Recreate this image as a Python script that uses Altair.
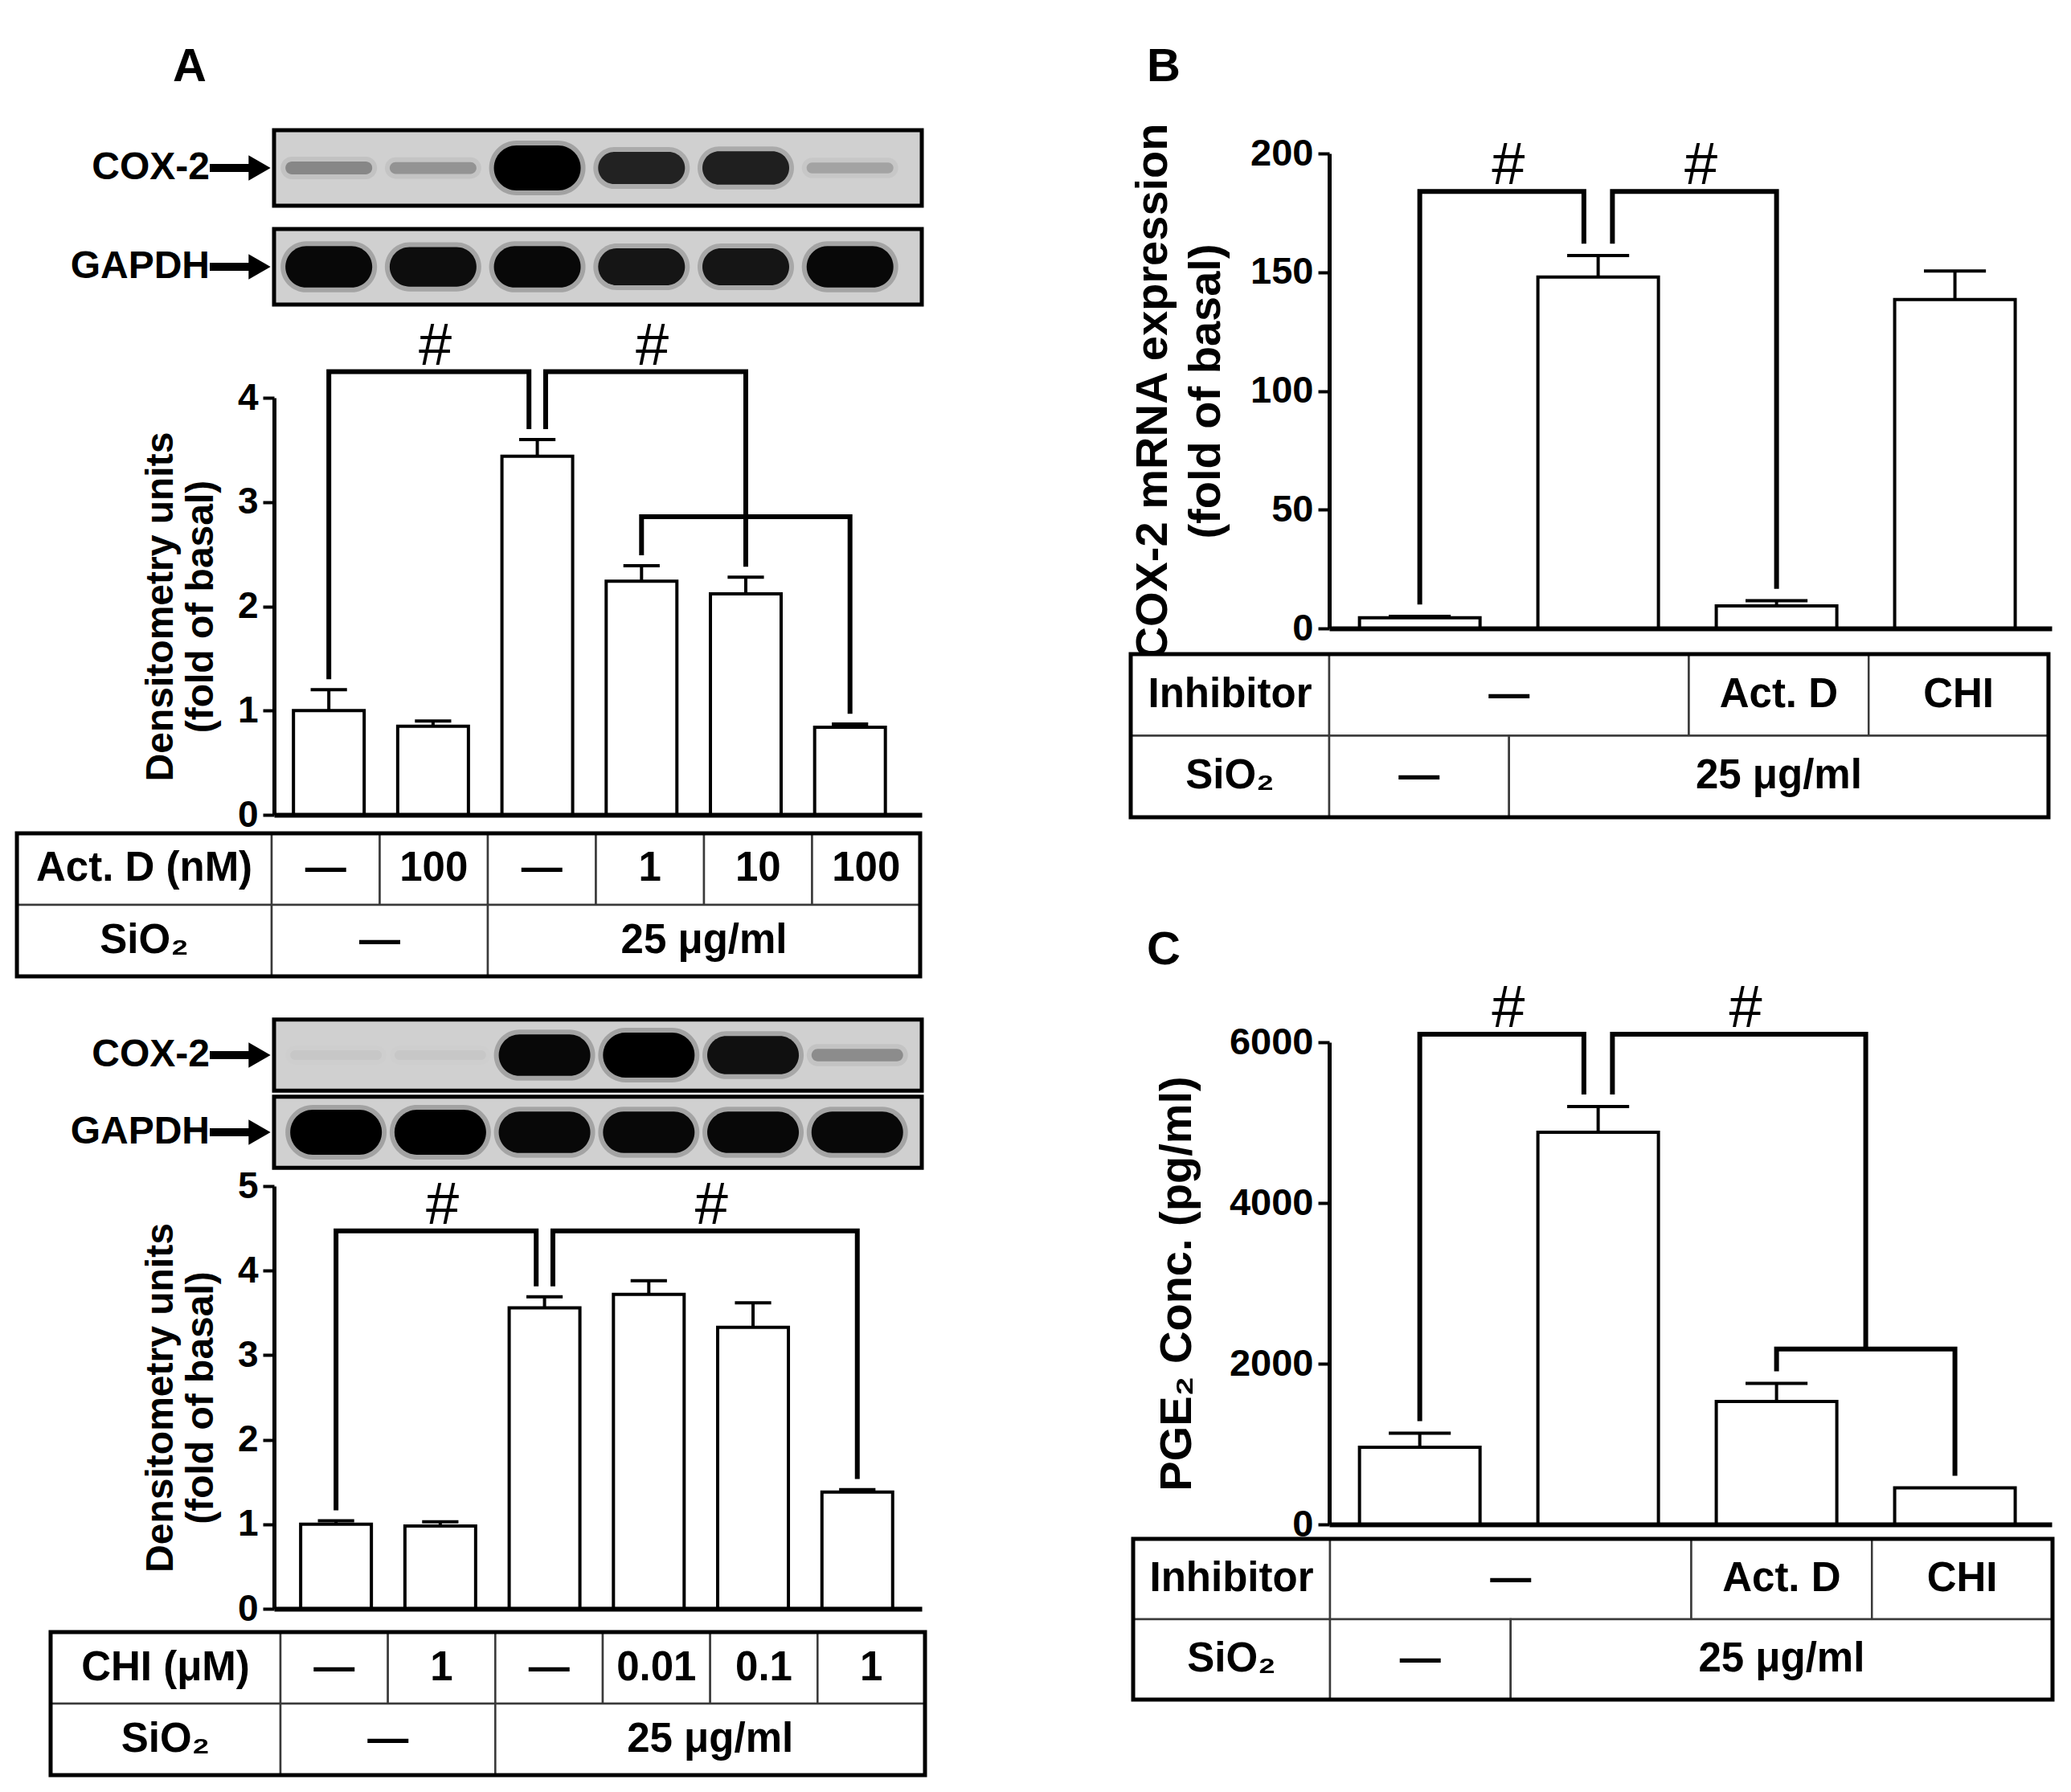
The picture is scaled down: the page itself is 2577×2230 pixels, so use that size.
import altair as alt
import pandas as pd

FONT = "Liberation Sans"

# ---------------- data ----------------
# Panel A, upper experiment (actinomycin D)
a1_mean = [1.00, 0.85, 3.44, 2.24, 2.12, 0.84]
a1_err = [0.20, 0.05, 0.16, 0.15, 0.16, 0.03]
a1_treat = ["—", "100", "—", "1", "10", "100"]
a1_treat_label = "Act. D (nM)"
a1_cox2_band = [0.30, 0.25, 1.00, 0.80, 0.82, 0.18]
a1_gapdh_band = [0.95, 0.92, 0.95, 0.88, 0.88, 0.95]
a1_brackets = [(1, 3, 4.25, "#"), (3, 5, 4.25, "#"), (4, 6, 2.86, "")]

# Panel A, lower experiment (cycloheximide)
a2_mean = [1.00, 0.98, 3.56, 3.72, 3.33, 1.38]
a2_err = [0.04, 0.05, 0.13, 0.16, 0.29, 0.03]
a2_treat = ["—", "1", "—", "0.01", "0.1", "1"]
a2_treat_label = "CHI (μM)"
a2_cox2_band = [0.03, 0.03, 0.95, 1.00, 0.90, 0.28]
a2_gapdh_band = [1.0, 1.0, 0.95, 0.95, 0.95, 0.95]
a2_brackets = [(1, 3, 4.47, "#"), (3, 6, 4.47, "#")]

sio2_label = "SiO₂"
a_sio2 = [(1, 2, "—"), (3, 6, "25 μg/ml")]

# Panel B
b_mean = [4.5, 148.0, 9.5, 138.5]
b_err = [0.6, 9.0, 2.2, 12.0]
b_brackets = [(1, 2, 184, "#"), (2, 3, 184, "#")]

# Panel C
c_mean = [960, 4880, 1530, 455]
c_err = [175, 320, 225, 0]
c_brackets = [(1, 2, 6100, "#"), (2, 3.5, 6100, "#"), (3, 4, 2183, "")]

bc_inhibitor = [(1, 2, "—"), (3, 3, "Act. D"), (4, 4, "CHI")]
bc_sio2 = [(1, 1, "—"), (2, 4, "25 μg/ml")]

TABLE_FS = 51
LETTER_FS = 58


# ---------------- helpers ----------------
def bracket_data(mean, err, brackets, gap, hub=0.08):
    tops = [m + e for m, e in zip(mean, err)]
    pts, labs = [], []
    for k, (l, r, h, lab) in enumerate(brackets):
        lo = hub if any(b[1] == l and b[2] == h for b in brackets) else 0.0
        ro = -hub if any(b[0] == r and b[2] == h for b in brackets) else 0.0

        def end_y(p):
            if float(p).is_integer():
                return tops[int(p) - 1] + gap
            return max(b[2] for b in brackets if b[0] <= p <= b[1] and b[2] < h)

        xl, xr = l + lo, r + ro
        for o, (xx, yy) in enumerate([(xl, end_y(l)), (xl, h), (xr, h), (xr, end_y(r))]):
            pts.append({"bid": k, "ord": o, "x": xx, "y": yy})
        if lab:
            labs.append({"x": (xl + xr) / 2, "y": h, "t": lab})
    return pd.DataFrame(pts), pd.DataFrame(labs)


def bar_panel(mean, err, brackets, ymax, yticks, title, width, height, xdom, barw,
              label_fs=46, title_fs=48, title_lh=50, title_pad=22):
    n = len(mean)
    df = pd.DataFrame({"pos": list(range(1, n + 1)), "mean": mean, "err": err})
    df["top"] = df["mean"] + df["err"]
    ppu = width / (xdom[1] - xdom[0])
    cap = barw * 0.26 / ppu
    xs = alt.Scale(domain=xdom, nice=False, zero=False)
    ys = alt.Scale(domain=[0, ymax], nice=False, zero=True)
    xaxis = alt.Axis(labels=False, ticks=False, grid=False, title=None,
                     domainWidth=6, zindex=1)
    yaxis = alt.Axis(values=yticks, title=title, format="d", titlePadding=title_pad,
                     titleLineHeight=title_lh, titleFontSize=title_fs,
                     labelFontSize=label_fs, grid=False, labelPadding=6)
    base = alt.Chart(df)
    bars = base.mark_bar(orient="vertical", size=barw, fill="white", stroke="black",
                         strokeWidth=4).encode(
        x=alt.X("pos:Q", scale=xs, axis=xaxis),
        y=alt.Y("mean:Q", scale=ys, axis=yaxis),
    )
    eb = base.transform_filter("datum.err > 0")
    stem = eb.mark_rule(strokeWidth=4, color="black").encode(
        x=alt.X("pos:Q", scale=xs, axis=xaxis),
        y=alt.Y("mean:Q", scale=ys, axis=yaxis), y2="top:Q")
    caps = eb.transform_calculate(
        c0=f"datum.pos - {cap}", c1=f"datum.pos + {cap}"
    ).mark_rule(strokeWidth=4, color="black").encode(
        x=alt.X("c0:Q", scale=xs, axis=xaxis), x2="c1:Q",
        y=alt.Y("top:Q", scale=ys, axis=yaxis))
    pts, labs = bracket_data(mean, err, brackets, 0.025 * ymax)
    br = alt.Chart(pts).mark_line(strokeWidth=6, color="black", strokeJoin="miter",
                                  strokeCap="butt").encode(
        x=alt.X("x:Q", scale=xs, axis=xaxis), y=alt.Y("y:Q", scale=ys, axis=yaxis),
        detail="bid:N", order="ord:Q")
    hs = alt.Chart(labs).mark_text(fontSize=74, font=FONT, baseline="alphabetic",
                                   dy=-9, dx=8, color="black").encode(
        x=alt.X("x:Q", scale=xs, axis=xaxis), y=alt.Y("y:Q", scale=ys, axis=yaxis),
        text="t:N")
    return alt.layer(bars, stem, caps, br, hs).properties(width=width, height=height)


def letter_layer(letter, pos):
    return alt.Chart(pd.DataFrame({"t": [letter]})).mark_text(
        fontSize=LETTER_FS, fontWeight="bold", font=FONT, baseline="middle", color="black"
    ).encode(x=alt.value(pos[0]), y=alt.value(pos[1]), text="t:N")


def blot_panel(cox, gapdh, width, height, xdom, ydom, row_half, band_w, ppu_y,
               letter=None, letter_pos=None):
    xs = alt.Scale(domain=xdom, nice=False, zero=False)
    ys = alt.Scale(domain=ydom, nice=False, zero=False, reverse=True)
    rows = pd.DataFrame({"row": [0, 1], "name": ["COX-2", "GAPDH"]})
    bands = pd.DataFrame([{"row": r, "lane": i + 1, "v": v}
                          for r, arr in enumerate([cox, gapdh]) for i, v in enumerate(arr)])
    frame = alt.Chart(rows).transform_calculate(
        r0=f"datum.row - {row_half}", r1=f"datum.row + {row_half}"
    ).mark_rect(fill="#d0d0d0", stroke="black", strokeWidth=5).encode(
        x=alt.value(0), x2=alt.value("width"),
        y=alt.Y("r0:Q", scale=ys, axis=None), y2="r1:Q")
    halo = alt.Chart(bands).transform_calculate(
        b0=f"datum.row - (12 + 22*datum.v*datum.v)/{ppu_y}",
        b1=f"datum.row + (12 + 22*datum.v*datum.v)/{ppu_y}",
        o="0.22*datum.v",
    ).mark_bar(orient="vertical", size=band_w + 12, cornerRadius=34, color="black").encode(
        x=alt.X("lane:Q", scale=xs, axis=None),
        y=alt.Y("b0:Q", scale=ys, axis=None), y2="b1:Q",
        opacity=alt.Opacity("o:Q", scale=alt.Scale(domain=[0, 1], range=[0, 1]), legend=None))
    core = alt.Chart(bands).transform_calculate(
        b0=f"datum.row - (6 + 22*datum.v*datum.v)/{ppu_y}",
        b1=f"datum.row + (6 + 22*datum.v*datum.v)/{ppu_y}",
    ).mark_bar(orient="vertical", size=band_w, cornerRadius=30, color="black").encode(
        x=alt.X("lane:Q", scale=xs, axis=None),
        y=alt.Y("b0:Q", scale=ys, axis=None), y2="b1:Q",
        opacity=alt.Opacity("v:Q", scale=alt.Scale(domain=[0, 1], range=[0, 1]), legend=None))
    lbl = alt.Chart(rows).mark_text(align="right", baseline="middle", fontSize=48,
                                    fontWeight="bold", font=FONT, color="black").encode(
        x=alt.value(-80), y=alt.Y("row:Q", scale=ys, axis=None), text="name:N")
    shaft = alt.Chart(rows).mark_rule(strokeWidth=10, color="black").encode(
        x=alt.value(-80), x2=alt.value(-24), y=alt.Y("row:Q", scale=ys, axis=None))
    head = alt.Chart(rows).mark_point(shape="triangle-right", filled=True, size=1000,
                                      color="black", opacity=1).encode(
        x=alt.value(-18), y=alt.Y("row:Q", scale=ys, axis=None))
    layers = [frame, halo, core, lbl, shaft, head]
    if letter:
        layers.append(letter_layer(letter, letter_pos))
    return alt.layer(*layers).properties(width=width, height=height)


def table_panel(width, height, xdom, ydom, label_left, row1_label, row1_cells,
                row2_label, row2_cells, letter=None, letter_pos=None):
    cells = [dict(row=0, x0=label_left, x1=0.5, text=row1_label),
             dict(row=1, x0=label_left, x1=0.5, text=row2_label)]
    for a, b, t in row1_cells:
        cells.append(dict(row=0, x0=a - 0.5, x1=b + 0.5, text=t))
    for a, b, t in row2_cells:
        cells.append(dict(row=1, x0=a - 0.5, x1=b + 0.5, text=t))
    df = pd.DataFrame(cells)
    xs = alt.Scale(domain=xdom, nice=False, zero=False)
    ys = alt.Scale(domain=ydom, nice=False, zero=False, reverse=True)
    base = alt.Chart(df).transform_calculate(
        y1="datum.row + 1", xm="(datum.x0 + datum.x1) / 2", ym="datum.row + 0.5")
    rect = base.mark_rect(fill="white", stroke="#3a3a3a", strokeWidth=2.5).encode(
        x=alt.X("x0:Q", scale=xs, axis=None), x2="x1:Q",
        y=alt.Y("row:Q", scale=ys, axis=None), y2="y1:Q")
    outer = base.transform_aggregate(
        xa="min(x0)", xb="max(x1)", ya="min(row)", yb="max(y1)"
    ).mark_rect(fillOpacity=0, stroke="black", strokeWidth=5).encode(
        x=alt.X("xa:Q", scale=xs, axis=None), x2="xb:Q",
        y=alt.Y("ya:Q", scale=ys, axis=None), y2="yb:Q")
    txt = base.mark_text(fontSize=TABLE_FS, fontWeight="bold", font=FONT,
                         baseline="middle", color="black").encode(
        x=alt.X("xm:Q", scale=xs, axis=None), y=alt.Y("ym:Q", scale=ys, axis=None),
        text="text:N")
    layers = [rect, outer, txt]
    if letter:
        layers.append(letter_layer(letter, letter_pos))
    return alt.layer(*layers).properties(width=width, height=height)


# ---------------- panel A ----------------
WL = 806
A1_X = [0.513, 6.65]
A2_X = [0.444, 6.58]
blotA1 = blot_panel(a1_cox2_band, a1_gapdh_band, WL, 332, A1_X, [-0.374, 2.325],
                    0.382, 108, 123, letter="A", letter_pos=(-105, -79))
chartA1 = bar_panel(a1_mean, a1_err, a1_brackets, 4, [0, 1, 2, 3, 4],
                    ["Densitometry units", "(fold of basal)"], WL, 519, A1_X, 88,
                    title_pad=21)
tableA1 = table_panel(WL, 253, [0.522, 6.515], [-0.258, 2.584], -1.857,
                      a1_treat_label, [(i + 1, i + 1, t) for i, t in enumerate(a1_treat)],
                      sio2_label, a_sio2)
blotA2 = blot_panel(a2_cox2_band, a2_gapdh_band, WL, 209, A2_X, [-0.479, 1.698],
                    0.46, 114, 96)
chartA2 = bar_panel(a2_mean, a2_err, a2_brackets, 5, [0, 1, 2, 3, 4, 5],
                    ["Densitometry units", "(fold of basal)"], WL, 526, A2_X, 88,
                    title_pad=21)
tableA2 = table_panel(WL, 207, [0.44, 6.47], [-0.326, 2.0], -1.64,
                      a2_treat_label, [(i + 1, i + 1, t) for i, t in enumerate(a2_treat)],
                      sio2_label, a_sio2)

# ---------------- panels B, C ----------------
WR = 899
BC_X = [0.515, 4.52]
spacerB = letter_layer("B", (-206, -79)).properties(width=WR, height=28)
chartB = bar_panel(b_mean, b_err, b_brackets, 200, [0, 50, 100, 150, 200],
                   ["COX-2 mRNA expression", "(fold of basal)"], WR, 591, BC_X, 150,
                   label_fs=47, title_fs=56, title_lh=66, title_pad=26)
tableB = table_panel(WR, 515, [0.5, 4.518], [-0.315, 4.759], -0.604,
                     "Inhibitor", bc_inhibitor, sio2_label, bc_sio2,
                     letter="C", letter_pos=(-206, 401))
chartC = bar_panel(c_mean, c_err, c_brackets, 6000, [0, 2000, 4000, 6000],
                   "PGE₂ Conc. (pg/ml)", WR, 600, BC_X, 150,
                   label_fs=47, title_fs=56, title_lh=66, title_pad=36)
tableC = table_panel(WR, 218, [0.4956, 4.4956], [-0.18, 2.0], -0.59,
                     "Inhibitor", bc_inhibitor, sio2_label, bc_sio2)

left = alt.vconcat(blotA1, chartA1, tableA1, blotA2, chartA2, tableA2,
                   spacing=0, bounds="flush")
right = alt.vconcat(spacerB, chartB, tableB, chartC, tableC, spacing=0, bounds="flush")

chart = alt.hconcat(left, right, spacing=250).properties(
    padding={"left": 10, "top": 47, "right": 10, "bottom": 10}
).configure(font=FONT).configure_view(stroke=None).configure_axis(
    domainColor="black", tickColor="black", labelColor="black", titleColor="black",
    labelFont=FONT, titleFont=FONT, labelFontWeight="bold", titleFontWeight="bold",
    labelFontSize=46, titleFontSize=48, tickWidth=4, tickSize=14, domainWidth=5,
    grid=False)

chart.save("out.html", embed_options={"renderer": "svg", "actions": False})
